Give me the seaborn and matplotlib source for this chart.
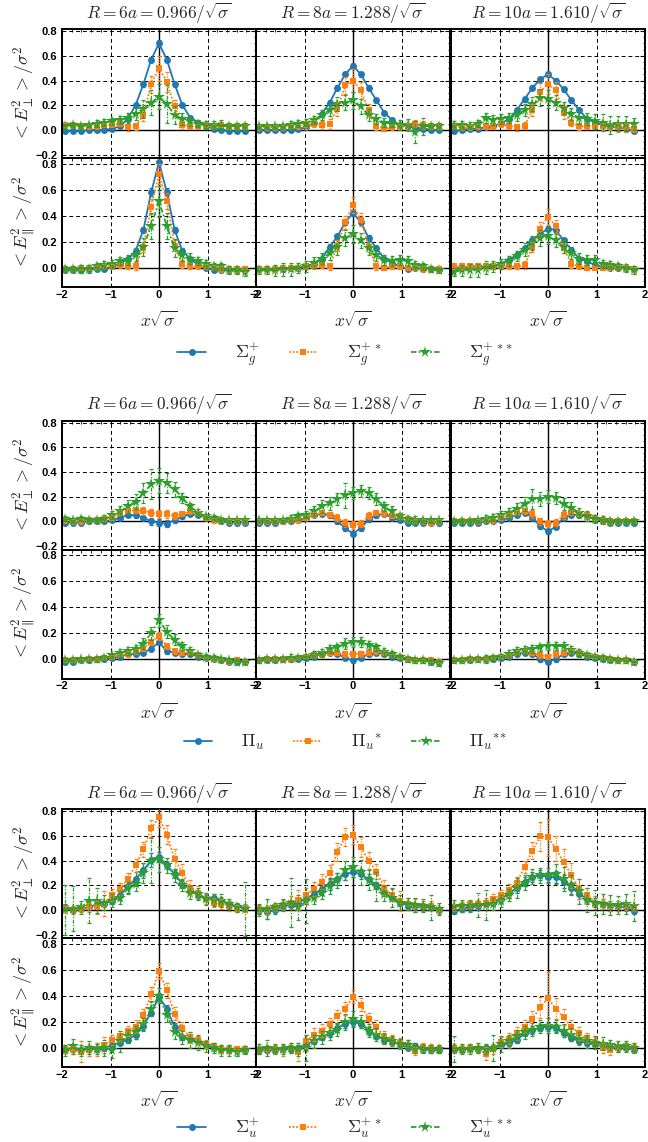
import numpy as np
import pandas as pd
import matplotlib
matplotlib.use("Agg")
import matplotlib.pyplot as plt
from matplotlib.lines import Line2D
from matplotlib.ticker import MultipleLocator, FixedLocator, FuncFormatter
import seaborn as sns

# ---------------- data ----------------
# lattice positions x*sqrt(sigma)
X = [-1.932, -1.771, -1.610, -1.449, -1.288, -1.127, -0.966, -0.805, -0.644, -0.483, -0.322, -0.161,
     0.0, 0.161, 0.322, 0.483, 0.644, 0.805, 0.966, 1.127, 1.288, 1.449, 1.610, 1.771]

col_titles = [r"$R=6a=0.966/\sqrt{\sigma}$", r"$R=8a=1.288/\sqrt{\sigma}$", r"$R=10a=1.610/\sqrt{\sigma}$"]
row_labels = [r"$<E_{\perp}^{2}>/\sigma^{2}$", r"$<E_{\parallel}^{2}>/\sigma^{2}$"]
legend_sgp = [r"$\Sigma_g^{+}$", r"$\Sigma_g^{+\,\ast}$", r"$\Sigma_g^{+\,\ast\!\ast}$"]
legend_piu = [r"$\Pi_u$", r"${\Pi_u}^{\ast}$", r"${\Pi_u}^{\ast\!\ast}$"]
legend_sup = [r"$\Sigma_u^{+}$", r"$\Sigma_u^{+\,\ast}$", r"$\Sigma_u^{+\,\ast\!\ast}$"]

# ===== Sigma_g^+ , E_perp =====
sgp_perp6_a = [-0.01,-0.01,-0.01,0.00,0.00,0.00,0.01,0.03,0.09,0.20,0.37,0.57,0.70,0.57,0.37,0.20,0.10,0.06,0.03,0.01,0.00,-0.01,-0.01,-0.01]
sgp_perp6_b = [0.04,0.04,0.03,0.03,0.03,0.04,0.04,0.05,0.02,0.03,0.12,0.37,0.50,0.39,0.19,0.04,0.03,0.03,0.04,0.03,0.04,0.03,0.03,0.03]
sgp_perp6_c = [0.03,0.04,0.03,0.04,0.05,0.06,0.07,0.08,0.10,0.13,0.17,0.22,0.27,0.21,0.12,0.09,0.07,0.05,0.04,0.04,0.03,0.03,0.03,0.03]
sgp_perp8_a = [0.00,0.00,0.00,0.00,0.00,0.01,0.02,0.06,0.13,0.22,0.34,0.45,0.52,0.45,0.34,0.24,0.14,0.08,0.04,0.03,0.02,0.01,0.00,0.00]
sgp_perp8_b = [0.02,0.02,0.02,0.02,0.03,0.03,0.04,0.05,0.04,0.05,0.17,0.36,0.40,0.32,0.16,0.03,0.01,0.02,0.03,0.03,0.05,0.04,0.03,0.03]
sgp_perp8_c = [0.03,0.03,0.03,0.03,0.04,0.05,0.06,0.08,0.12,0.16,0.21,0.22,0.24,0.19,0.12,0.09,0.06,0.05,0.04,0.04,-0.02,0.03,0.03,0.03]
sgp_perp10_a = [-0.01,0.00,0.01,0.01,0.02,0.035,0.05,0.09,0.16,0.25,0.34,0.41,0.45,0.40,0.33,0.24,0.16,0.09,0.06,0.04,0.03,0.02,0.01,-0.01]
sgp_perp10_b = [0.03,0.02,0.02,0.03,0.03,0.03,0.05,0.035,0.02,0.035,0.16,0.31,0.37,0.32,0.14,0.06,0.03,0.03,0.03,0.03,0.03,0.02,0.02,0.01]
sgp_perp10_c = [0.04,0.04,0.035,0.05,0.10,0.08,0.09,0.10,0.12,0.16,0.21,0.26,0.25,0.22,0.18,0.13,0.10,0.09,0.07,0.06,0.04,0.05,0.05,0.05]
e_sgp_perp6_a = [0.01,0.01,0.01,0.01,0.01,0.01,0.01,0.01,0.01,0.01,0.02,0.02,0.03,0.02,0.02,0.01,0.01,0.01,0.01,0.01,0.01,0.01,0.01,0.01]
e_sgp_perp6_b = [0.02,0.02,0.02,0.02,0.02,0.02,0.02,0.02,0.03,0.03,0.05,0.07,0.10,0.08,0.05,0.03,0.02,0.02,0.02,0.02,0.02,0.02,0.02,0.02]
e_sgp_perp6_c = [0.02,0.02,0.02,0.02,0.03,0.03,0.03,0.03,0.04,0.05,0.07,0.10,0.10,0.15,0.07,0.05,0.04,0.03,0.03,0.03,0.05,0.03,0.03,0.03]
e_sgp_perp8_a = [0.01,0.01,0.01,0.01,0.01,0.01,0.01,0.01,0.01,0.02,0.02,0.02,0.02,0.02,0.02,0.02,0.01,0.01,0.01,0.01,0.01,0.01,0.01,0.01]
e_sgp_perp8_b = [0.02,0.02,0.02,0.02,0.02,0.02,0.03,0.03,0.03,0.04,0.06,0.07,0.09,0.07,0.05,0.03,0.02,0.02,0.02,0.03,0.03,0.03,0.02,0.02]
e_sgp_perp8_c = [0.02,0.02,0.02,0.02,0.03,0.03,0.03,0.03,0.04,0.05,0.06,0.06,0.07,0.06,0.05,0.04,0.04,0.03,0.04,0.05,0.09,0.07,0.03,0.03]
e_sgp_perp10_a = [0.01,0.01,0.01,0.01,0.01,0.01,0.01,0.01,0.01,0.02,0.02,0.02,0.02,0.02,0.02,0.02,0.01,0.01,0.01,0.01,0.01,0.01,0.01,0.01]
e_sgp_perp10_b = [0.02,0.02,0.02,0.02,0.02,0.02,0.03,0.03,0.03,0.03,0.05,0.07,0.08,0.07,0.05,0.03,0.03,0.02,0.02,0.03,0.03,0.04,0.04,0.03]
e_sgp_perp10_c = [0.03,0.03,0.03,0.03,0.04,0.04,0.04,0.04,0.05,0.05,0.06,0.07,0.07,0.06,0.05,0.05,0.05,0.05,0.06,0.07,0.07,0.06,0.06,0.05]

# ===== Sigma_g^+ , E_par =====
sgp_par6_a = [-0.02,-0.02,-0.02,-0.01,-0.01,-0.01,0.01,0.035,0.065,0.13,0.29,0.58,0.81,0.58,0.29,0.13,0.07,0.02,0.00,-0.02,-0.02,-0.02,-0.02,-0.02]
sgp_par6_b = [-0.01,-0.01,0.00,0.00,0.00,0.01,0.01,0.02,0.01,0.015,0.16,0.47,0.72,0.51,0.17,0.03,0.01,0.01,0.01,0.00,-0.01,-0.01,-0.01,-0.01]
sgp_par6_c = [-0.01,-0.01,-0.01,-0.01,0.01,0.02,0.03,0.05,0.06,0.10,0.16,0.32,0.51,0.32,0.15,0.10,0.07,0.05,0.03,0.01,0.01,-0.02,-0.02,-0.03]
sgp_par8_a = [-0.01,-0.01,-0.01,-0.01,0.00,0.00,0.01,0.03,0.07,0.16,0.24,0.35,0.42,0.35,0.23,0.15,0.07,0.035,0.01,-0.01,0.00,-0.01,-0.01,-0.02]
sgp_par8_b = [-0.01,-0.01,-0.01,0.00,0.00,0.00,0.01,0.01,0.02,0.01,0.17,0.35,0.48,0.37,0.16,0.01,0.00,0.01,0.01,0.00,0.00,-0.01,-0.01,-0.01]
sgp_par8_c = [-0.02,-0.02,-0.02,-0.01,-0.01,0.00,0.01,0.04,0.07,0.11,0.16,0.23,0.26,0.21,0.15,0.10,0.06,0.05,0.06,0.05,0.02,0.01,-0.01,-0.02]
sgp_par10_a = [0.00,0.00,0.01,0.01,0.01,0.01,0.03,0.06,0.10,0.15,0.21,0.26,0.30,0.29,0.21,0.14,0.07,0.05,0.02,0.01,0.00,0.00,0.00,-0.01]
sgp_par10_b = [0.01,0.01,0.01,0.01,0.01,0.01,0.01,0.01,0.01,0.02,0.16,0.30,0.39,0.32,0.15,0.03,0.01,0.00,0.00,0.00,0.00,0.00,0.00,-0.01]
sgp_par10_c = [-0.03,-0.02,-0.02,-0.02,0.00,0.01,0.03,0.05,0.09,0.14,0.19,0.23,0.24,0.21,0.16,0.11,0.07,0.06,0.06,0.03,0.02,0.01,0.00,-0.02]
e_sgp_par6_a = [0.01,0.01,0.01,0.01,0.01,0.01,0.01,0.01,0.01,0.02,0.02,0.03,0.03,0.03,0.02,0.02,0.01,0.01,0.01,0.01,0.01,0.01,0.01,0.01]
e_sgp_par6_b = [0.02,0.02,0.02,0.02,0.02,0.02,0.02,0.02,0.02,0.03,0.04,0.06,0.08,0.06,0.04,0.03,0.02,0.02,0.02,0.02,0.02,0.02,0.02,0.02]
e_sgp_par6_c = [0.02,0.02,0.03,0.03,0.03,0.03,0.03,0.03,0.04,0.05,0.07,0.10,0.12,0.10,0.07,0.05,0.04,0.03,0.03,0.03,0.03,0.03,0.03,0.03]
e_sgp_par8_a = [0.01,0.01,0.01,0.01,0.01,0.01,0.01,0.01,0.01,0.02,0.02,0.02,0.02,0.02,0.02,0.02,0.01,0.01,0.01,0.01,0.01,0.01,0.01,0.01]
e_sgp_par8_b = [0.02,0.02,0.02,0.02,0.02,0.02,0.02,0.02,0.02,0.03,0.04,0.05,0.06,0.05,0.04,0.03,0.02,0.02,0.02,0.02,0.02,0.02,0.02,0.02]
e_sgp_par8_c = [0.03,0.03,0.04,0.05,0.05,0.04,0.04,0.04,0.04,0.05,0.06,0.06,0.07,0.06,0.05,0.05,0.04,0.04,0.04,0.04,0.03,0.03,0.02,0.02]
e_sgp_par10_a = [0.01,0.01,0.01,0.01,0.01,0.01,0.01,0.01,0.01,0.02,0.02,0.02,0.02,0.02,0.02,0.02,0.01,0.01,0.01,0.01,0.01,0.01,0.01,0.01]
e_sgp_par10_b = [0.02,0.02,0.02,0.02,0.02,0.02,0.02,0.02,0.02,0.03,0.04,0.05,0.06,0.05,0.04,0.03,0.02,0.02,0.02,0.02,0.02,0.02,0.02,0.02]
e_sgp_par10_c = [0.03,0.04,0.05,0.05,0.05,0.04,0.04,0.04,0.04,0.05,0.05,0.06,0.06,0.05,0.05,0.04,0.04,0.04,0.04,0.03,0.03,0.03,0.03,0.03]

# ===== Pi_u , E_perp =====
piu_perp6_a = [-0.01,-0.01,-0.01,0.00,0.00,0.00,0.01,0.03,0.05,0.05,0.03,0.00,-0.01,-0.02,0.01,0.04,0.06,0.05,0.03,0.01,0.00,-0.01,-0.01,-0.01]
piu_perp6_b = [0.01,0.00,0.00,0.01,0.01,0.02,0.03,0.07,0.085,0.09,0.085,0.07,0.06,0.06,0.045,0.06,0.08,0.06,0.03,0.01,0.01,0.00,0.00,0.00]
piu_perp6_c = [0.02,0.01,0.02,0.01,0.01,0.02,0.05,0.08,0.12,0.16,0.23,0.30,0.33,0.31,0.26,0.19,0.12,0.07,0.04,0.03,0.01,0.01,0.01,0.01]
piu_perp8_a = [-0.01,-0.01,-0.01,0.00,0.00,0.01,0.03,0.05,0.06,0.05,0.00,-0.055,-0.10,-0.055,0.015,0.05,0.06,0.03,0.01,-0.01,-0.01,-0.01,-0.01,-0.01]
piu_perp8_b = [0.00,0.00,0.00,0.00,0.01,0.01,0.03,0.055,0.07,0.055,0.03,-0.015,-0.03,-0.02,0.045,0.07,0.065,0.045,0.04,0.015,0.00,0.00,-0.01,0.00]
piu_perp8_c = [0.01,0.01,0.01,0.01,0.02,0.04,0.055,0.08,0.12,0.145,0.18,0.21,0.23,0.245,0.23,0.18,0.12,0.08,0.04,0.015,0.01,0.01,0.01,0.01]
piu_perp10_a = [-0.01,-0.01,-0.01,-0.01,0.00,0.00,0.01,0.03,0.055,0.07,0.03,-0.04,-0.08,-0.045,0.03,0.055,0.05,0.04,0.015,0.00,-0.01,-0.01,-0.01,-0.01]
piu_perp10_b = [0.00,0.00,0.00,0.00,0.01,0.01,0.03,0.05,0.07,0.08,0.06,0.00,-0.02,-0.01,0.05,0.07,0.06,0.05,0.03,0.01,0.00,0.00,0.00,0.00]
piu_perp10_c = [0.00,0.00,0.00,0.01,0.02,0.03,0.05,0.07,0.10,0.14,0.18,0.18,0.20,0.19,0.14,0.11,0.07,0.04,0.02,0.01,0.00,0.00,0.00,0.00]
e_piu_perp6_a = [0.01,0.01,0.01,0.01,0.01,0.01,0.01,0.01,0.01,0.02,0.02,0.03,0.03,0.03,0.02,0.02,0.01,0.01,0.01,0.01,0.01,0.01,0.01,0.01]
e_piu_perp6_b = [0.02,0.02,0.02,0.02,0.02,0.02,0.02,0.02,0.02,0.02,0.03,0.03,0.03,0.03,0.03,0.02,0.02,0.02,0.02,0.02,0.02,0.02,0.02,0.02]
e_piu_perp6_c = [0.02,0.02,0.02,0.02,0.02,0.03,0.03,0.04,0.05,0.06,0.08,0.12,0.10,0.08,0.06,0.04,0.03,0.03,0.02,0.02,0.02,0.02,0.02,0.02]
e_piu_perp8_a = [0.01,0.01,0.01,0.01,0.01,0.01,0.01,0.01,0.01,0.02,0.02,0.02,0.02,0.02,0.02,0.02,0.01,0.01,0.01,0.01,0.01,0.01,0.01,0.01]
e_piu_perp8_b = [0.02,0.02,0.02,0.02,0.02,0.02,0.02,0.02,0.02,0.02,0.03,0.03,0.03,0.03,0.03,0.02,0.02,0.02,0.02,0.02,0.02,0.02,0.02,0.02]
e_piu_perp8_c = [0.02,0.02,0.02,0.02,0.03,0.03,0.03,0.04,0.05,0.05,0.05,0.10,0.05,0.05,0.05,0.05,0.04,0.04,0.03,0.03,0.03,0.02,0.02,0.02]
e_piu_perp10_a = [0.01,0.01,0.01,0.01,0.01,0.01,0.01,0.01,0.01,0.02,0.02,0.02,0.02,0.02,0.02,0.02,0.01,0.01,0.01,0.01,0.01,0.01,0.01,0.01]
e_piu_perp10_b = [0.02,0.02,0.02,0.02,0.02,0.02,0.02,0.02,0.02,0.02,0.03,0.03,0.03,0.03,0.03,0.02,0.02,0.02,0.02,0.02,0.02,0.02,0.02,0.02]
e_piu_perp10_c = [0.02,0.02,0.02,0.02,0.03,0.03,0.03,0.04,0.05,0.06,0.08,0.06,0.05,0.05,0.05,0.05,0.04,0.04,0.03,0.03,0.03,0.02,0.02,0.02]

# ===== Pi_u , E_par =====
piu_par6_a = [-0.02,-0.02,-0.01,-0.01,0.00,0.00,0.01,0.02,0.04,0.04,0.05,0.08,0.13,0.06,0.05,0.04,0.04,0.02,0.01,0.00,-0.01,-0.02,-0.02,-0.02]
piu_par6_b = [-0.01,-0.01,-0.01,0.00,0.00,0.01,0.02,0.03,0.04,0.06,0.08,0.13,0.18,0.10,0.06,0.05,0.05,0.03,0.01,0.00,-0.01,-0.02,-0.01,-0.02]
piu_par6_c = [-0.01,-0.01,0.00,0.00,0.00,0.01,0.03,0.05,0.06,0.08,0.12,0.20,0.30,0.21,0.15,0.10,0.06,0.03,0.02,0.01,0.00,-0.01,-0.02,-0.02]
piu_par8_a = [-0.01,-0.01,-0.01,0.00,0.00,0.00,0.01,0.02,0.04,0.05,0.04,0.01,-0.01,0.01,0.04,0.05,0.04,0.02,0.01,0.00,-0.01,-0.01,-0.02,-0.02]
piu_par8_b = [-0.01,0.00,0.00,0.00,0.00,0.01,0.02,0.03,0.04,0.05,0.05,0.04,0.04,0.04,0.05,0.06,0.05,0.03,0.02,0.00,-0.01,-0.01,-0.01,-0.02]
piu_par8_c = [-0.01,0.00,0.00,0.00,0.01,0.01,0.02,0.03,0.05,0.075,0.09,0.12,0.13,0.13,0.11,0.09,0.055,0.04,0.015,0.00,-0.01,-0.01,-0.02,-0.03]
piu_par10_a = [-0.01,-0.01,-0.01,0.00,0.00,0.00,0.01,0.02,0.04,0.05,0.04,0.00,-0.02,0.00,0.04,0.05,0.04,0.02,0.01,0.00,-0.01,-0.01,-0.01,-0.02]
piu_par10_b = [-0.01,-0.01,0.00,0.00,0.00,0.01,0.02,0.03,0.05,0.06,0.05,0.03,0.02,0.04,0.05,0.06,0.05,0.03,0.02,0.01,0.00,-0.01,-0.01,-0.02]
piu_par10_c = [-0.01,-0.01,0.00,0.00,0.00,0.01,0.02,0.04,0.06,0.07,0.08,0.09,0.10,0.10,0.10,0.07,0.05,0.03,0.02,0.01,0.00,-0.01,-0.01,-0.02]
e_piu_par6_a = [0.01,0.01,0.01,0.01,0.01,0.01,0.01,0.01,0.01,0.01,0.01,0.02,0.02,0.02,0.01,0.01,0.01,0.01,0.01,0.01,0.01,0.01,0.01,0.01]
e_piu_par6_b = [0.01,0.01,0.01,0.01,0.01,0.01,0.01,0.01,0.02,0.02,0.02,0.02,0.03,0.02,0.02,0.02,0.01,0.01,0.01,0.01,0.01,0.01,0.01,0.01]
e_piu_par6_c = [0.02,0.02,0.02,0.02,0.02,0.02,0.02,0.03,0.03,0.03,0.04,0.05,0.05,0.05,0.04,0.03,0.03,0.02,0.02,0.02,0.02,0.02,0.02,0.02]
e_piu_par8_a = [0.01,0.01,0.01,0.01,0.01,0.01,0.01,0.01,0.01,0.01,0.01,0.02,0.02,0.02,0.01,0.01,0.01,0.01,0.01,0.01,0.01,0.01,0.01,0.01]
e_piu_par8_b = [0.01,0.01,0.01,0.01,0.01,0.01,0.01,0.01,0.02,0.02,0.02,0.02,0.02,0.02,0.02,0.02,0.01,0.01,0.01,0.01,0.01,0.01,0.01,0.01]
e_piu_par8_c = [0.02,0.02,0.02,0.02,0.03,0.02,0.02,0.03,0.03,0.03,0.03,0.04,0.04,0.04,0.03,0.03,0.03,0.02,0.02,0.02,0.02,0.02,0.02,0.02]
e_piu_par10_a = [0.01,0.01,0.01,0.01,0.01,0.01,0.01,0.01,0.01,0.01,0.01,0.02,0.02,0.02,0.01,0.01,0.01,0.01,0.01,0.01,0.01,0.01,0.01,0.01]
e_piu_par10_b = [0.01,0.01,0.01,0.01,0.01,0.01,0.01,0.01,0.02,0.02,0.02,0.02,0.02,0.02,0.02,0.02,0.01,0.01,0.01,0.01,0.01,0.01,0.01,0.01]
e_piu_par10_c = [0.02,0.02,0.02,0.02,0.03,0.02,0.02,0.03,0.03,0.03,0.03,0.03,0.03,0.03,0.03,0.03,0.03,0.02,0.02,0.02,0.02,0.02,0.02,0.02]

# ===== Sigma_u^+ , E_perp =====
sup_perp6_a = [0.02,0.00,0.01,0.02,0.045,0.05,0.075,0.12,0.19,0.25,0.32,0.405,0.43,0.36,0.29,0.21,0.17,0.12,0.10,0.10,0.075,0.045,0.03,0.02]
sup_perp6_b = [0.01,0.00,0.01,0.02,0.02,0.05,0.12,0.17,0.25,0.36,0.49,0.66,0.75,0.61,0.41,0.30,0.18,0.14,0.09,0.06,0.05,0.035,0.01,0.01]
sup_perp6_c = [0.00,0.01,0.02,0.075,0.075,0.06,0.075,0.10,0.18,0.21,0.30,0.40,0.41,0.36,0.28,0.20,0.14,0.13,0.09,0.08,0.075,0.05,0.02,0.01]
sup_perp8_a = [0.00,-0.02,0.00,0.03,0.04,0.06,0.09,0.13,0.17,0.21,0.25,0.29,0.305,0.29,0.25,0.20,0.14,0.10,0.06,0.035,0.03,0.02,0.02,0.00]
sup_perp8_b = [0.01,0.00,0.02,0.04,0.06,0.08,0.12,0.17,0.23,0.30,0.47,0.59,0.61,0.51,0.40,0.31,0.18,0.12,0.075,0.05,0.035,0.03,0.03,0.00]
sup_perp8_c = [0.00,0.01,0.02,0.04,0.06,0.02,0.07,0.10,0.14,0.19,0.24,0.32,0.35,0.305,0.24,0.19,0.13,0.10,0.06,0.05,0.04,0.035,0.02,0.01]
sup_perp10_a = [-0.005,0.01,0.02,0.03,0.05,0.06,0.09,0.135,0.18,0.23,0.265,0.28,0.27,0.265,0.23,0.18,0.13,0.09,0.06,0.05,0.035,0.03,0.02,-0.005]
sup_perp10_b = [0.02,0.035,0.045,0.05,0.06,0.09,0.12,0.16,0.22,0.35,0.48,0.595,0.59,0.495,0.39,0.28,0.17,0.12,0.06,0.045,0.035,0.03,0.03,0.02]
sup_perp10_c = [0.03,0.03,0.03,0.04,0.04,0.05,0.07,0.12,0.18,0.22,0.27,0.28,0.28,0.29,0.25,0.20,0.15,0.08,0.06,0.05,0.04,0.04,0.05,0.03]
e_sup_perp6_a = [0.03,0.02,0.02,0.02,0.02,0.02,0.03,0.04,0.05,0.06,0.06,0.06,0.04,0.03,0.03,0.03,0.03,0.03,0.03,0.03,0.03,0.03,0.02,0.02]
e_sup_perp6_b = [0.03,0.03,0.03,0.04,0.05,0.10,0.05,0.05,0.05,0.05,0.06,0.07,0.08,0.08,0.08,0.07,0.06,0.05,0.04,0.04,0.04,0.04,0.03,0.03]
e_sup_perp6_c = [0.20,0.18,0.05,0.18,0.10,0.06,0.05,0.05,0.05,0.06,0.08,0.18,0.10,0.06,0.05,0.05,0.05,0.05,0.05,0.05,0.05,0.04,0.04,0.22]
e_sup_perp8_a = [0.03,0.05,0.03,0.03,0.03,0.03,0.04,0.04,0.05,0.05,0.05,0.05,0.04,0.04,0.04,0.03,0.03,0.03,0.03,0.03,0.03,0.03,0.02,0.02]
e_sup_perp8_b = [0.03,0.03,0.03,0.04,0.05,0.08,0.06,0.06,0.06,0.06,0.07,0.07,0.08,0.08,0.07,0.06,0.06,0.05,0.08,0.05,0.05,0.04,0.04,0.03]
e_sup_perp8_c = [0.05,0.08,0.04,0.05,0.20,0.10,0.18,0.05,0.05,0.06,0.06,0.08,0.08,0.10,0.08,0.12,0.06,0.08,0.06,0.05,0.06,0.05,0.10,0.05]
e_sup_perp10_a = [0.03,0.03,0.03,0.03,0.03,0.03,0.03,0.04,0.04,0.04,0.04,0.04,0.04,0.05,0.05,0.05,0.04,0.04,0.04,0.04,0.04,0.04,0.03,0.03]
e_sup_perp10_b = [0.03,0.03,0.03,0.03,0.04,0.04,0.04,0.05,0.05,0.05,0.07,0.12,0.15,0.10,0.10,0.10,0.08,0.06,0.05,0.04,0.04,0.04,0.03,0.03]
e_sup_perp10_c = [0.05,0.05,0.05,0.10,0.12,0.05,0.05,0.05,0.08,0.06,0.06,0.06,0.06,0.08,0.10,0.08,0.10,0.10,0.10,0.08,0.08,0.07,0.08,0.12]

# ===== Sigma_u^+ , E_par =====
sup_par6_a = [-0.02,-0.01,-0.02,-0.01,-0.01,0.00,0.02,0.04,0.06,0.10,0.17,0.27,0.39,0.30,0.16,0.08,0.07,0.05,0.02,0.00,-0.01,-0.02,-0.02,-0.02]
sup_par6_b = [-0.01,-0.02,-0.03,-0.02,-0.01,0.02,0.06,0.09,0.13,0.16,0.25,0.41,0.59,0.44,0.26,0.15,0.08,0.06,0.03,0.01,-0.01,-0.01,-0.01,-0.01]
sup_par6_c = [-0.02,0.01,-0.02,0.00,-0.01,0.00,-0.02,0.05,0.09,0.12,0.18,0.30,0.40,0.25,0.12,0.08,0.06,0.04,0.01,0.00,-0.02,-0.02,-0.03,-0.02]
sup_par8_a = [-0.02,-0.02,-0.02,-0.01,-0.01,0.00,0.03,0.05,0.08,0.11,0.15,0.185,0.20,0.185,0.13,0.09,0.06,0.045,0.025,0.00,0.01,-0.01,-0.02,-0.02]
sup_par8_b = [-0.02,-0.01,-0.01,-0.02,0.00,-0.03,0.05,0.10,0.13,0.18,0.24,0.30,0.39,0.33,0.22,0.16,0.08,0.06,0.035,0.02,-0.025,0.005,0.00,-0.01]
sup_par8_c = [-0.01,0.00,-0.01,-0.01,0.00,-0.01,0.00,0.05,0.08,0.11,0.14,0.20,0.22,0.20,0.13,0.10,0.07,0.05,0.03,0.02,0.00,-0.01,-0.01,-0.01]
sup_par10_a = [-0.015,-0.015,-0.01,-0.01,0.00,0.00,0.02,0.035,0.06,0.11,0.135,0.155,0.16,0.15,0.11,0.075,0.05,0.035,0.025,0.01,0.005,0.00,0.00,-0.015]
sup_par10_b = [0.00,-0.01,0.00,-0.01,-0.045,-0.01,0.045,0.07,0.11,0.16,0.22,0.31,0.38,0.30,0.235,0.16,0.11,0.075,0.045,0.00,-0.015,0.00,0.01,0.00]
sup_par10_c = [-0.01,-0.01,-0.01,0.00,-0.01,0.00,0.03,0.05,0.09,0.12,0.14,0.16,0.17,0.16,0.13,0.10,0.07,0.05,0.04,0.03,0.02,0.01,0.01,0.00]
e_sup_par6_a = [0.02,0.02,0.02,0.02,0.02,0.02,0.02,0.02,0.02,0.03,0.03,0.03,0.03,0.03,0.03,0.02,0.02,0.02,0.02,0.02,0.02,0.02,0.02,0.02]
e_sup_par6_b = [0.03,0.03,0.08,0.04,0.05,0.06,0.04,0.04,0.04,0.05,0.05,0.06,0.06,0.06,0.05,0.05,0.04,0.03,0.03,0.03,0.03,0.03,0.02,0.02]
e_sup_par6_c = [0.04,0.06,0.04,0.05,0.04,0.06,0.06,0.08,0.05,0.05,0.05,0.06,0.06,0.05,0.05,0.05,0.06,0.06,0.04,0.04,0.04,0.04,0.03,0.03]
e_sup_par8_a = [0.02,0.02,0.02,0.02,0.02,0.02,0.02,0.02,0.02,0.03,0.03,0.03,0.03,0.03,0.03,0.02,0.02,0.02,0.02,0.02,0.03,0.02,0.02,0.02]
e_sup_par8_b = [0.03,0.03,0.03,0.04,0.04,0.07,0.05,0.05,0.05,0.05,0.05,0.05,0.05,0.05,0.05,0.05,0.05,0.04,0.04,0.04,0.03,0.03,0.03,0.03]
e_sup_par8_c = [0.04,0.06,0.04,0.04,0.04,0.05,0.10,0.05,0.05,0.05,0.05,0.06,0.06,0.05,0.05,0.05,0.04,0.04,0.04,0.04,0.04,0.03,0.03,0.03]
e_sup_par10_a = [0.02,0.02,0.02,0.02,0.02,0.02,0.02,0.02,0.02,0.02,0.03,0.03,0.03,0.03,0.03,0.02,0.02,0.02,0.02,0.02,0.02,0.02,0.02,0.02]
e_sup_par10_b = [0.03,0.03,0.03,0.03,0.05,0.04,0.04,0.04,0.05,0.05,0.06,0.08,0.20,0.08,0.06,0.05,0.05,0.04,0.04,0.04,0.04,0.03,0.03,0.03]
e_sup_par10_c = [0.10,0.04,0.04,0.04,0.04,0.10,0.06,0.05,0.05,0.05,0.05,0.05,0.06,0.05,0.05,0.05,0.05,0.05,0.05,0.05,0.04,0.04,0.04,0.04]

# ---------------- assemble ----------------
G = globals()
groups = [("sgp", legend_sgp), ("piu", legend_piu), ("sup", legend_sup)]
rows = ["perp", "par"]
cols = ["6", "8", "10"]
series_keys = ["a", "b", "c"]

colors = {"a": "#1f77b4", "b": "#ff7f0e", "c": "#2ca02c"}
markers = {"a": "o", "b": "s", "c": "*"}
msizes = {"a": 5.0, "b": 4.6, "c": 8.5}
dashes = {"a": "", "b": (1, 1), "c": (3, 1.2, 1, 1.2)}
err_ls = {"a": "-", "b": (0, (1, 1)), "c": (0, (3, 1.2, 1, 1.2))}

# ---------------- style ----------------
sns.set_theme(style="white")
plt.rcParams["font.family"] = ["Liberation Sans", "DejaVu Sans"]
plt.rcParams["mathtext.fontset"] = "cm"
plt.rcParams["axes.unicode_minus"] = True

W, H = 648.0, 1142.0
fig = plt.figure(figsize=(W / 100, H / 100), dpi=100)

col_left = [62, 256, 451]
col_w = 194
group_top = [29.3, 420.7, 809.3]
row_h = 129.0
ylims = [(-0.23, 0.815), (-0.15, 0.84)]
legend_offset = [67, 64, 61]

def rect(left, top, w, h):
    return [left / W, 1 - (top + h) / H, w / W, h / H]

tickfmt = FuncFormatter(lambda v, p: ("%.1f" % v).replace("-", "\u2212"))
xfmt = FuncFormatter(lambda v, p: ("%d" % round(v)).replace("-", "\u2212"))

for gi, (gname, leg_labels) in enumerate(groups):
    for ri, rname in enumerate(rows):
        for ci, cname in enumerate(cols):
            top = group_top[gi] + ri * row_h
            ax = fig.add_axes(rect(col_left[ci], top, col_w, row_h))
            frames = []
            for s in series_keys:
                vals = G[f"{gname}_{rname}{cname}_{s}"]
                errs = G[f"e_{gname}_{rname}{cname}_{s}"]
                frames.append(pd.DataFrame({"x": X, "y": vals, "err": errs, "series": s}))
            df = pd.concat(frames, ignore_index=True)

            ax.grid(True, color="black", linestyle=(0, (4, 3)), linewidth=0.7)
            ax.set_axisbelow(True)
            ax.axhline(0, color="black", lw=1.0, zorder=1.5)
            ax.axvline(0, color="black", lw=1.0, zorder=1.5)

            for k, s in enumerate(series_keys):
                d = df[df["series"] == s]
                eb = ax.errorbar(d["x"], d["y"], yerr=d["err"], fmt="none", ecolor=colors[s],
                                 elinewidth=0.9, capsize=1.6, capthick=0.9, zorder=2 + k)
                for lc in eb[2]:
                    lc.set_linestyle(err_ls[s])
            sns.lineplot(data=df, x="x", y="y", hue="series", style="series",
                         hue_order=series_keys, style_order=series_keys,
                         palette=colors, markers=markers, dashes=dashes,
                         sort=False, errorbar=None, legend=False, ax=ax,
                         linewidth=1.3, markeredgewidth=0)
            for line in ax.get_lines():
                c = matplotlib.colors.to_hex(line.get_color())
                for s in series_keys:
                    if c == colors[s] and line.get_marker() == markers[s]:
                        line.set_markersize(msizes[s])

            ax.set_xlim(-2, 2)
            ax.set_ylim(*ylims[ri])
            ax.xaxis.set_major_locator(FixedLocator([-2, -1, 0, 1, 2]))
            ax.xaxis.set_minor_locator(MultipleLocator(0.2))
            if ri == 0:
                ax.yaxis.set_major_locator(FixedLocator([-0.2, 0.0, 0.2, 0.4, 0.6, 0.8]))
            else:
                ax.yaxis.set_major_locator(FixedLocator([0.0, 0.2, 0.4, 0.6, 0.8]))
            ax.yaxis.set_minor_locator(MultipleLocator(0.05))
            ax.tick_params(which="both", direction="in", top=True, right=True, colors="black")
            ax.tick_params(which="major", length=3.5, width=0.8)
            ax.tick_params(which="minor", length=1.8, width=0.6)
            ax.set_xlabel("")
            ax.set_ylabel("")
            if ci == 0:
                ax.yaxis.set_major_formatter(tickfmt)
                for lab in ax.get_yticklabels():
                    lab.set_fontweight("bold")
                    lab.set_fontsize(8)
            else:
                ax.tick_params(axis="y", labelleft=False)
            if ri == 1:
                ax.xaxis.set_major_formatter(xfmt)
                ax.tick_params(axis="x", pad=2)
                for lab in ax.get_xticklabels():
                    lab.set_fontweight("bold")
                    lab.set_fontsize(8)
            else:
                ax.tick_params(axis="x", labelbottom=False)
            for sp in ax.spines.values():
                sp.set_color("black")
                sp.set_linewidth(1.4)
                sp.set_visible(True)

            if ri == 0:
                fig.text((col_left[ci] + col_w / 2) / W, 1 - (group_top[gi] - 16) / H,
                         col_titles[ci], ha="center", va="center", fontsize=12.5)
            if ri == 1:
                fig.text((col_left[ci] + col_w / 2) / W, 1 - (group_top[gi] + 2 * row_h + 33) / H,
                         r"$x\sqrt{\sigma}$", ha="center", va="center", fontsize=12.5)
        fig.text(24 / W, 1 - (group_top[gi] + ri * row_h + row_h / 2) / H, row_labels[ri],
                 rotation=90, ha="center", va="center", fontsize=13)

    handles = [Line2D([0], [0], color=colors[s], marker=markers[s], markersize=msizes[s],
                      markeredgewidth=0, linewidth=1.3,
                      linestyle=("-" if s == "a" else err_ls[s])) for s in series_keys]
    fig.legend(handles, leg_labels, loc="center", ncol=3, frameon=False,
               bbox_to_anchor=(345 / W, 1 - (group_top[gi] + 2 * row_h + legend_offset[gi]) / H),
               fontsize=13, handlelength=1.6, handletextpad=1.6, columnspacing=1.6,
               borderpad=0.1)

fig.savefig("out.png", dpi=100)
